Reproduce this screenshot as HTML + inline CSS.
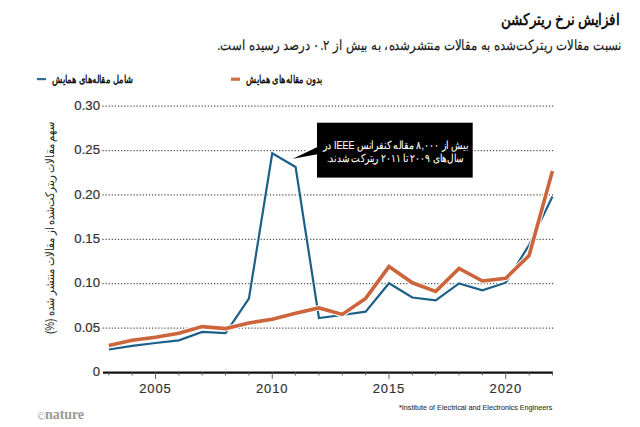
<!DOCTYPE html>
<html><head><meta charset="utf-8">
<style>
html,body{margin:0;padding:0;background:#fff;}
body{width:640px;height:427px;position:relative;overflow:hidden;font-family:"Liberation Sans",sans-serif;}
.fa{position:absolute;white-space:nowrap;direction:rtl;unicode-bidi:isolate;}
svg{position:absolute;left:0;top:0;}
.g{stroke:#555;stroke-width:1.25;stroke-dasharray:1.25 1.85;}
.t{stroke:#555;stroke-width:0.9;}
.yl{position:absolute;font-size:12px;color:#333;line-height:13px;text-align:right;width:40px;-webkit-text-stroke:0.2px #333;transform:scaleX(1.1);transform-origin:100% 50%;}
.xl{position:absolute;font-size:13px;color:#333;line-height:13px;text-align:center;width:50px;letter-spacing:0.9px;-webkit-text-stroke:0.2px #333;}
</style></head><body>
<div class="fa" id="title" style="right:20.3px;top:10px;font-size:15.5px;line-height:20px;font-weight:bold;color:#111;transform:scaleX(0.845);transform-origin:100% 50%;">افزایش نرخ ریترکشن</div>
<div class="fa" id="sub" style="right:18.4px;top:36.3px;font-size:14px;line-height:18px;color:#1a1a1a;-webkit-text-stroke:0.2px #1a1a1a;transform:scaleX(0.8396);transform-origin:100% 50%;">نسبت مقالات ریترکت‌شده به مقالات منتشرشده، به بیش از ۰.۲ درصد رسیده است.</div>
<div class="fa" id="leg1" style="left:52px;top:72.4px;font-size:11px;line-height:14px;font-weight:bold;color:#111;transform:scaleX(0.76);transform-origin:0 50%;">شامل مقاله‌های همایش</div>
<div class="fa" id="leg2" style="left:246px;top:72.4px;font-size:11px;line-height:14px;font-weight:bold;color:#111;transform:scaleX(0.75);transform-origin:0 50%;">بدون مقاله‌های همایش</div>
<svg width="640" height="427" viewBox="0 0 640 427">
<rect x="37" y="78" width="9" height="2.2" fill="#2a6d95"/>
<rect x="231" y="77.6" width="9" height="3.2" fill="#cf6e48"/>
<line x1="102.4" y1="328.12" x2="554" y2="328.12" class="g"/><line x1="102.4" y1="283.73" x2="554" y2="283.73" class="g"/><line x1="102.4" y1="239.35" x2="554" y2="239.35" class="g"/><line x1="102.4" y1="194.97" x2="554" y2="194.97" class="g"/><line x1="102.4" y1="150.58" x2="554" y2="150.58" class="g"/><line x1="102.4" y1="106.20" x2="554" y2="106.20" class="g"/>
<line x1="103" y1="372.6" x2="553" y2="372.6" stroke="#111" stroke-width="2.2"/>
<line x1="108.80" y1="372" x2="108.80" y2="375.5" class="t"/><line x1="132.15" y1="372" x2="132.15" y2="375.5" class="t"/><line x1="155.50" y1="372" x2="155.50" y2="379" class="t"/><line x1="178.85" y1="372" x2="178.85" y2="375.5" class="t"/><line x1="202.20" y1="372" x2="202.20" y2="375.5" class="t"/><line x1="225.55" y1="372" x2="225.55" y2="375.5" class="t"/><line x1="248.90" y1="372" x2="248.90" y2="375.5" class="t"/><line x1="272.25" y1="372" x2="272.25" y2="379" class="t"/><line x1="295.60" y1="372" x2="295.60" y2="375.5" class="t"/><line x1="318.95" y1="372" x2="318.95" y2="375.5" class="t"/><line x1="342.30" y1="372" x2="342.30" y2="375.5" class="t"/><line x1="365.65" y1="372" x2="365.65" y2="375.5" class="t"/><line x1="389.00" y1="372" x2="389.00" y2="379" class="t"/><line x1="412.35" y1="372" x2="412.35" y2="375.5" class="t"/><line x1="435.70" y1="372" x2="435.70" y2="375.5" class="t"/><line x1="459.05" y1="372" x2="459.05" y2="375.5" class="t"/><line x1="482.40" y1="372" x2="482.40" y2="375.5" class="t"/><line x1="505.75" y1="372" x2="505.75" y2="379" class="t"/><line x1="529.10" y1="372" x2="529.10" y2="375.5" class="t"/><line x1="552.45" y1="372" x2="552.45" y2="375.5" class="t"/>
<polyline points="108.80,349.50 132.15,345.80 155.50,343.00 178.85,340.30 202.20,331.90 225.55,333.20 248.90,298.60 272.25,153.30 295.60,167.00 318.95,318.00 342.30,315.00 365.65,311.60 389.00,283.30 412.35,297.50 435.70,300.40 459.05,283.40 482.40,290.40 505.75,282.70 529.10,245.00 552.45,196.60" fill="none" stroke="#fff" stroke-width="3.4" stroke-linejoin="miter"/>
<polyline points="108.80,349.50 132.15,345.80 155.50,343.00 178.85,340.30 202.20,331.90 225.55,333.20 248.90,298.60 272.25,153.30 295.60,167.00 318.95,318.00 342.30,315.00 365.65,311.60 389.00,283.30 412.35,297.50 435.70,300.40 459.05,283.40 482.40,290.40 505.75,282.70 529.10,245.00 552.45,196.60" fill="none" stroke="#1c5f88" stroke-width="2.2" stroke-linejoin="miter"/>
<polyline points="108.80,345.60 132.15,340.30 155.50,337.30 178.85,333.20 202.20,326.60 225.55,328.60 248.90,323.00 272.25,319.20 295.60,313.20 318.95,307.90 342.30,314.40 365.65,298.40 389.00,266.60 412.35,282.80 435.70,291.40 459.05,268.40 482.40,281.00 505.75,278.30 529.10,255.50 552.45,171.00" fill="none" stroke="#fff" stroke-width="5.5" stroke-linejoin="miter"/>
<polyline points="108.80,345.60 132.15,340.30 155.50,337.30 178.85,333.20 202.20,326.60 225.55,328.60 248.90,323.00 272.25,319.20 295.60,313.20 318.95,307.90 342.30,314.40 365.65,298.40 389.00,266.60 412.35,282.80 435.70,291.40 459.05,268.40 482.40,281.00 505.75,278.30 529.10,255.50 552.45,171.00" fill="none" stroke="#cc653b" stroke-width="3.6" stroke-linejoin="miter"/>
<path d="M292.8,158.7 L317.5,147 L317.5,154.3 Z" fill="#fff" stroke="#fff" stroke-width="4" stroke-linejoin="round"/><path d="M292.8,158.7 L317.5,147 L317.5,154.3 Z" fill="#000"/>
<rect x="317" y="122.7" width="155.7" height="54.9" fill="#000"/>
</svg>
<div class="yl" style="left:59.8px;top:366.0px;">0</div>
<div class="yl" style="left:59.8px;top:321.6px;">0.05</div>
<div class="yl" style="left:59.8px;top:277.2px;">0.10</div>
<div class="yl" style="left:59.8px;top:232.8px;">0.15</div>
<div class="yl" style="left:59.8px;top:188.5px;">0.20</div>
<div class="yl" style="left:59.8px;top:144.1px;">0.25</div>
<div class="yl" style="left:59.8px;top:99.7px;">0.30</div>
<div class="xl" style="left:130.5px;top:382px;">2005</div>
<div class="xl" style="left:247.2px;top:382px;">2010</div>
<div class="xl" style="left:364.0px;top:382px;">2015</div>
<div class="xl" style="left:480.8px;top:382px;">2020</div>
<div class="fa" id="c1" style="left:323px;top:139px;font-size:10.5px;line-height:13px;color:#fff;-webkit-text-stroke:0.1px #fff;transform:scaleX(0.852);transform-origin:0 50%;">بیش از ۸,۰۰۰ مقاله کنفرانس IEEE در</div>
<div class="fa" id="c2" style="left:327.2px;top:152px;font-size:10.5px;line-height:13px;color:#fff;-webkit-text-stroke:0.1px #fff;transform:scaleX(0.821);transform-origin:0 50%;">سال‌های ۲۰۰۹ تا ۲۰۱۱ ریترکت شدند.</div>
<div class="fa" id="yt" style="left:49.5px;top:227.8px;font-size:12px;line-height:12px;color:#222;transform:translate(-50%,-50%) rotate(-90deg) scaleX(0.825);">سهم مقالات ریترکت‌شده از مقالات منتشر شده (%)</div>
<div id="foot" style="position:absolute;left:399px;top:403px;font-size:7.22px;line-height:10px;color:#333;-webkit-text-stroke:0.1px #333;white-space:nowrap;">*Institute of Electrical and Electronics Engineers</div>
<div id="nat" style="position:absolute;left:37px;top:408.4px;font-family:'Liberation Serif',serif;font-size:14px;line-height:14px;font-weight:bold;color:#9a9a9a;white-space:nowrap;letter-spacing:-0.1px;"><span style="font-size:11px;line-height:10px;font-weight:normal;color:#999;letter-spacing:-0.3px;position:relative;top:0.3px">©</span>nature</div>
</body></html>
